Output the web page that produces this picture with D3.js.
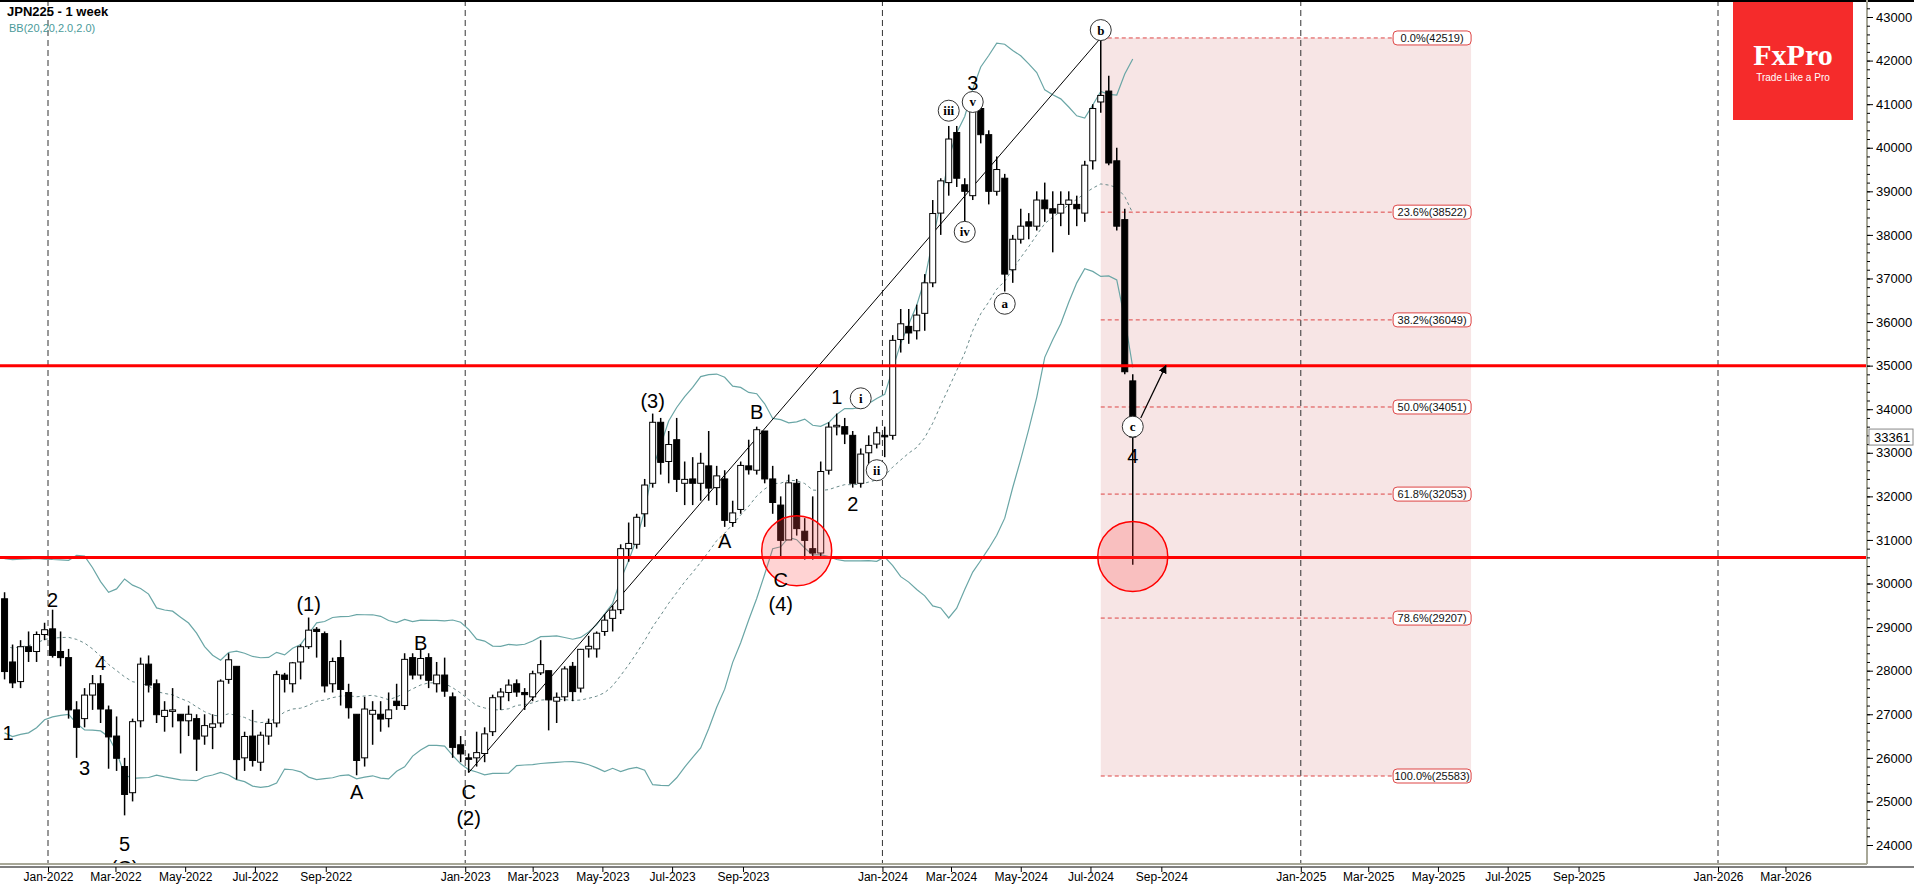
<!DOCTYPE html>
<html>
<head>
<meta charset="utf-8">
<script src="https://cdn.jsdelivr.net/npm/d3@7"></script>
<style>
  body { margin: 0; background: #fff; }
  svg { display: block; font-family: "Liberation Sans", Arial, sans-serif; }
</style>
</head>
<body>
<svg id="chart" width="1914" height="886"></svg>
<script>
// closes before the first drawn candle (only for the Bollinger warm-up)
const historyCloses = [28780, 27940, 28000, 27550, 27280, 27820, 27980, 27010, 27640,
  29130, 30380, 30500, 30250, 28770, 28050, 29070, 28800, 28890, 29610];

// weekly candles [open, high, low, close], first week starts 2021-11-22
const ohlc2021 = [
  [29650, 29800, 27800, 27980], [28200, 28600, 27600, 27720], [27750, 28700, 27600, 28550],
  [28550, 28900, 28200, 28440], [28440, 28900, 28200, 28830], [28830, 29100, 28700, 28940]
];
const ohlc2022 = [
  [28960, 29400, 28300, 28350], [28440, 28900, 28100, 28300], [28300, 28500, 26900, 27100],
  [27100, 27300, 26000, 26700], [26900, 27600, 26700, 27440], [27440, 27900, 27100, 27700],
  [27700, 27900, 26800, 27120], [27100, 27200, 25750, 26480], [26500, 26950, 25700, 25990],
  [25800, 26000, 24680, 25160], [25200, 26900, 25000, 26830], [26850, 28300, 26700, 28150],
  [28150, 28350, 27500, 27670], [27700, 27800, 26800, 26990], [26950, 27300, 26600, 27090],
  [27100, 27600, 26700, 27100], [27000, 27000, 26100, 26850], [26850, 27200, 26500, 27000],
  [26900, 27000, 25700, 26430], [26500, 27000, 26300, 26740], [26700, 27000, 26200, 26780],
  [26800, 27800, 26700, 27760], [27800, 28400, 27700, 28250], [28100, 28100, 25500, 25960],
  [26000, 26600, 25700, 26490], [26500, 27100, 25800, 25940], [25900, 26600, 25700, 26520],
  [26500, 26900, 26300, 26790], [26800, 28000, 26700, 27910], [27900, 27950, 27500, 27800],
  [27700, 28200, 27500, 28180], [28200, 28600, 27800, 28550], [28550, 29220, 28500, 28930],
  [28950, 29000, 28300, 28900], [28850, 28900, 27500, 27650], [27700, 28300, 27500, 28210],
  [28300, 28700, 27200, 27570], [27500, 27700, 26900, 27150], [27000, 27000, 25600, 25940],
  [26000, 27400, 25800, 27120], [27000, 27300, 26300, 27090], [27000, 27300, 26600, 26890],
  [26900, 27500, 26700, 27100], [27300, 27700, 27100, 27200], [27200, 28400, 27100, 28260],
  [28300, 28400, 27800, 27900], [27900, 28500, 27800, 28280], [28300, 28400, 27600, 27780],
  [27700, 28200, 27500, 27900], [27900, 28300, 27400, 27530], [27400, 27500, 26000, 26240],
  [26300, 26500, 25900, 26090]
];
const ohlc2023 = [
  [26000, 26100, 25660, 25970], [26000, 26600, 25800, 26120], [26100, 26700, 25900, 26550],
  [26600, 27450, 26500, 27380], [27400, 27600, 27100, 27510], [27500, 27800, 27300, 27670],
  [27700, 27800, 27400, 27510], [27500, 27600, 27100, 27450], [27400, 28000, 27300, 27930],
  [27950, 28700, 27900, 28140], [28000, 28000, 26630, 27330], [27300, 27500, 26800, 27390],
  [27400, 28100, 27300, 28040], [28100, 28200, 27300, 27520], [27600, 28500, 27500, 28490],
  [28500, 28800, 28300, 28560], [28500, 28900, 28300, 28860], [28900, 29300, 28800, 29160],
  [29200, 29500, 28900, 29390], [29400, 30900, 29300, 30800], [30800, 31400, 30500, 30920],
  [30900, 31600, 30800, 31520], [31600, 32400, 31300, 32260], [32300, 33900, 32200, 33700],
  [33700, 33800, 32500, 32780], [32800, 33500, 32300, 33190], [33300, 33800, 32100, 32390],
  [32300, 32800, 31800, 32390], [32400, 32900, 31800, 32300], [32300, 33000, 31900, 32760],
  [32700, 33500, 31900, 32190], [32200, 32700, 31800, 32470], [32400, 32600, 31300, 31450],
  [31400, 31900, 31300, 31620], [31700, 32800, 31600, 32710], [32700, 33300, 32500, 32610],
  [32600, 33600, 32500, 33530], [33500, 33500, 32300, 32400], [32400, 32700, 31600, 31860],
  [31800, 32000, 30600, 30990], [31000, 32500, 31000, 32310], [32300, 32400, 31100, 31260],
  [31200, 31500, 30550, 30990], [30800, 32000, 30550, 30700], [30700, 32800, 30600, 32570],
  [32600, 33700, 32500, 33590], [33600, 33900, 33400, 33630], [33600, 33800, 33200, 33430],
  [33400, 33500, 32200, 32300], [32300, 33100, 32200, 32970], [33000, 33400, 32500, 33170],
  [33200, 33600, 33100, 33460]
];
const ohlc2024 = [
  [33400, 33600, 32900, 33380], [33400, 35700, 33300, 35580], [35600, 36300, 35300, 35960],
  [35900, 36300, 35500, 35750], [35800, 36400, 35600, 36160], [36200, 37100, 35800, 36900],
  [36900, 38800, 36800, 38490], [38500, 39300, 38000, 39240], [39200, 40500, 38900, 40200],
  [40350, 40500, 39100, 39300], [39150, 39300, 38200, 39000], [38900, 41100, 38800, 41000],
  [40900, 41100, 40100, 40300], [40300, 40400, 38700, 39000], [39000, 39800, 38900, 39500],
  [39300, 39400, 36700, 37100], [37200, 38000, 36900, 37900], [37900, 38600, 37800, 38200],
  [38300, 38500, 37900, 38200], [38200, 39000, 38100, 38800], [38800, 39200, 38300, 38600],
  [38600, 39000, 37600, 38500], [38500, 39000, 38200, 38700], [38700, 39000, 38000, 38800],
  [38700, 38900, 38200, 38600], [38500, 39700, 38300, 39600], [39700, 41000, 39500, 40900],
  [41050, 42519, 40800, 41200], [41300, 41650, 39600, 39650], [39700, 40000, 38100, 38200],
  [38350, 38600, 34800, 34860], [34650, 34800, 30430, 33361]
];

const fibLevels = [0, 0.236, 0.382, 0.5, 0.618, 0.786, 1];
const fibLabels = ["0.0%(42519)", "23.6%(38522)", "38.2%(36049)", "50.0%(34051)",
  "61.8%(32053)", "78.6%(29207)", "100.0%(25583)"];
const levelLines = [35000, 30600];

const waveLabels = [
  ["2021-11-25", 26600, "1"], ["2022-01-03", 29650, "2"], ["2022-01-31", 25800, "3"],
  ["2022-02-14", 28200, "4"], ["2022-03-07", 24050, "5"], ["2022-03-07", 23500, "(C)"],
  ["2022-08-15", 29550, "(1)"], ["2022-09-26", 25250, "A"], ["2022-11-21", 28650, "B"],
  ["2023-01-02", 25250, "C"], ["2023-01-02", 24650, "(2)"], ["2023-06-12", 34200, "(3)"],
  ["2023-08-14", 31000, "A"], ["2023-09-11", 33950, "B"], ["2023-10-02", 30100, "C"],
  ["2023-10-02", 29550, "(4)"], ["2023-11-20", 34300, "1"], ["2023-12-04", 31850, "2"],
  ["2024-03-18", 41500, "3"], ["2024-08-05", 32950, "4"]
];
const circleLabels = [
  ["2023-12-11", 34250, "i"], ["2023-12-25", 32600, "ii"], ["2024-02-26", 40850, "iii"],
  ["2024-03-18", 41050, "v"], ["2024-03-11", 38070, "iv"], ["2024-04-15", 36420, "a"],
  ["2024-07-08", 42700, "b"], ["2024-08-05", 33600, "c"]
];

const xTicks = ["2022-01-01", "2022-03-01", "2022-05-01", "2022-07-01", "2022-09-01",
  "2023-01-01", "2023-03-01", "2023-05-01", "2023-07-01", "2023-09-01",
  "2024-01-01", "2024-03-01", "2024-05-01", "2024-07-01", "2024-09-01",
  "2025-01-01", "2025-03-01", "2025-05-01", "2025-07-01", "2025-09-01",
  "2026-01-01", "2026-03-01"];
const yearLines = ["2022-01-01", "2023-01-01", "2024-01-01", "2025-01-01", "2026-01-01"];

const parse = d3.timeParse("%Y-%m-%d");
const firstWeek = parse("2021-11-22");
const candles = [...ohlc2021, ...ohlc2022, ...ohlc2023, ...ohlc2024].map((d, i) => ({
  date: d3.timeWeek.offset(firstWeek, i), o: d[0], h: d[1], l: d[2], c: d[3]
}));

const W = 1914, H = 886, plotR = 1867, plotB = 864;
const x = d3.scaleTime().domain([parse("2022-01-01"), parse("2026-01-01")]).range([48, 1718]);
const xc = d => x(d3.timeDay.offset(d, 2));
const y = d3.scaleLinear().domain([24000, 43000]).range([845, 17]);

const svg = d3.select("#chart");
const plot = svg.append("g").attr("clip-path", "url(#clip)");
svg.append("clipPath").attr("id", "clip").append("rect")
  .attr("x", 0).attr("y", 1).attr("width", plotR).attr("height", plotB - 1);

// fib box
const fibX0 = xc(parse("2024-07-08")), fibX1 = x(parse("2025-05-30"));
const fibTop = 42519, fibBot = 25583;
plot.append("rect").attr("x", fibX0).attr("y", y(fibTop))
  .attr("width", fibX1 - fibX0).attr("height", y(fibBot) - y(fibTop)).attr("fill", "#f7e5e5");

// year gridlines
plot.selectAll(".yl").data(yearLines).enter().append("line")
  .attr("x1", d => x(parse(d))).attr("x2", d => x(parse(d)))
  .attr("y1", 0).attr("y2", plotB)
  .attr("stroke", "#333").attr("stroke-dasharray", "6,4").attr("stroke-width", 1);

// fib lines & labels
fibLevels.forEach((f, i) => {
  const v = fibTop - (fibTop - fibBot) * f;
  plot.append("line").attr("x1", fibX0).attr("x2", fibX1 - 78)
    .attr("y1", y(v)).attr("y2", y(v))
    .attr("stroke", "#d44").attr("stroke-dasharray", "4,3");
  const g = plot.append("g").attr("transform", `translate(${fibX1 - 78},${y(v)})`);
  g.append("rect").attr("x", 0).attr("y", -7).attr("width", 78).attr("height", 14)
    .attr("rx", 4).attr("fill", "#fff").attr("stroke", "#d44");
  g.append("text").attr("x", 39).attr("y", 4).attr("text-anchor", "middle")
    .attr("font-size", 11).attr("fill", "#111").text(fibLabels[i]);
});

// Bollinger bands BB(20, 2)
const allCloses = [...historyCloses, ...candles.map(d => d.c)];
const bands = candles.map((d, i) => {
  const win = allCloses.slice(i + historyCloses.length - 19, i + historyCloses.length + 1);
  const m = d3.mean(win), s = d3.deviation(win) * Math.sqrt((win.length - 1) / win.length);
  return { date: d.date, m, u: m + 2 * s, l: m - 2 * s };
});
const bandLine = k => d3.line().x(d => xc(d.date)).y(d => y(d[k]));
plot.append("path").attr("d", bandLine("u")(bands)).attr("fill", "none").attr("stroke", "#6aa6a6").attr("stroke-width", 1.2);
plot.append("path").attr("d", bandLine("l")(bands)).attr("fill", "none").attr("stroke", "#6aa6a6").attr("stroke-width", 1.2);
plot.append("path").attr("d", bandLine("m")(bands)).attr("fill", "none").attr("stroke", "#6a8a8a")
  .attr("stroke-width", 1).attr("stroke-dasharray", "3,3");

// trendline C(2) -> b
plot.append("line").attr("x1", xc(parse("2023-01-02"))).attr("y1", y(25660))
  .attr("x2", xc(parse("2024-07-08"))).attr("y2", y(42519)).attr("stroke", "#000").attr("stroke-width", 1);

// candles
const cw = 6;
const cg = plot.selectAll(".c").data(candles).enter().append("g");
cg.append("line").attr("x1", d => xc(d.date)).attr("x2", d => xc(d.date))
  .attr("y1", d => y(d.h)).attr("y2", d => y(d.l)).attr("stroke", "#000").attr("stroke-width", 1.5);
cg.append("rect").attr("x", d => xc(d.date) - cw / 2)
  .attr("y", d => y(Math.max(d.o, d.c)))
  .attr("width", cw).attr("height", d => Math.max(1.5, Math.abs(y(d.o) - y(d.c))))
  .attr("fill", d => d.c >= d.o ? "#fff" : "#000").attr("stroke", "#000").attr("stroke-width", 1);

// horizontal levels
plot.selectAll(".lv").data(levelLines).enter().append("line")
  .attr("x1", 0).attr("x2", plotR).attr("y1", d => y(d)).attr("y2", d => y(d))
  .attr("stroke", "#f00").attr("stroke-width", 3);

// red circles
[["2023-10-16", 30750], ["2024-08-05", 30620]].forEach(([d, v]) => {
  plot.append("circle").attr("cx", xc(parse(d))).attr("cy", y(v)).attr("r", 35)
    .attr("fill", "rgba(255,80,80,0.25)").attr("stroke", "#f00").attr("stroke-width", 1.5);
});

// arrow
svg.append("defs").append("marker").attr("id", "ah").attr("viewBox", "0 0 10 10")
  .attr("refX", 9).attr("refY", 5).attr("markerWidth", 7).attr("markerHeight", 7).attr("orient", "auto")
  .append("path").attr("d", "M0,0L10,5L0,10z").attr("fill", "#000");
plot.append("line").attr("x1", xc(parse("2024-08-05")) + 8).attr("y1", y(33800))
  .attr("x2", x(parse("2024-09-05"))).attr("y2", y(35000))
  .attr("stroke", "#000").attr("stroke-width", 1.2).attr("marker-end", "url(#ah)");

// wave labels
plot.selectAll(".wl").data(waveLabels).enter().append("text")
  .attr("x", d => xc(parse(d[0]))).attr("y", d => y(d[1]) + 8)
  .attr("text-anchor", "middle").attr("font-size", 20).attr("fill", "#000").text(d => d[2]);
const cl = plot.selectAll(".cl").data(circleLabels).enter().append("g")
  .attr("transform", d => `translate(${xc(parse(d[0]))},${y(d[1])})`);
cl.append("circle").attr("r", 10.5).attr("fill", "#fff").attr("stroke", "#333");
cl.append("text").attr("y", 4.5).attr("text-anchor", "middle").attr("font-size", 13)
  .attr("font-weight", "bold").attr("font-family", "Liberation Serif, serif").text(d => d[2]);

// frame
svg.append("line").attr("x1", 0).attr("x2", W).attr("y1", 1).attr("y2", 1).attr("stroke", "#000").attr("stroke-width", 2);
svg.append("line").attr("x1", 0).attr("x2", plotR).attr("y1", plotB).attr("y2", plotB).attr("stroke", "#a8a898").attr("stroke-width", 2);
svg.append("line").attr("x1", plotR).attr("x2", plotR).attr("y1", 0).attr("y2", plotB).attr("stroke", "#a8a898").attr("stroke-width", 2);
svg.append("line").attr("x1", 0).attr("x2", W).attr("y1", plotB + 3).attr("y2", plotB + 3).attr("stroke", "#000");

// y axis
const yAxis = d3.axisRight(y).tickValues(d3.range(24000, 43001, 1000)).tickSize(6).tickFormat(d3.format("d"));
svg.append("g").attr("transform", `translate(${plotR},0)`).call(yAxis)
  .call(g => g.select(".domain").remove())
  .call(g => g.selectAll("text").attr("font-size", 13).attr("fill", "#000")
    .attr("font-family", "Liberation Sans, Arial, sans-serif"));
svg.append("g").attr("transform", `translate(${plotR},0)`)
  .call(d3.axisRight(y).tickValues(d3.range(24000, 43201, 200)).tickSize(3).tickFormat(""))
  .call(g => g.select(".domain").remove());

// current price
const last = candles[candles.length - 1].c;
const pg = svg.append("g").attr("transform", `translate(${plotR + 2},${y(last)})`);
pg.append("rect").attr("x", 0).attr("y", -8).attr("width", 44).attr("height", 16)
  .attr("fill", "#fff").attr("stroke", "#888");
pg.append("text").attr("x", 5).attr("y", 5).attr("font-size", 13).text(last);

// x axis
const xAxis = d3.axisBottom(x).tickValues(xTicks.map(parse)).tickSize(5).tickFormat(d3.timeFormat("%b-%Y"));
svg.append("g").attr("transform", `translate(0,${plotB + 3})`).call(xAxis)
  .call(g => g.select(".domain").remove())
  .call(g => g.selectAll("text").attr("font-size", 12).attr("fill", "#000").attr("dy", "0.5em")
    .attr("font-family", "Liberation Sans, Arial, sans-serif"));

// title
svg.append("text").attr("x", 7).attr("y", 16).attr("font-size", 13).attr("font-weight", "bold").text("JPN225 - 1 week");
svg.append("text").attr("x", 9).attr("y", 32).attr("font-size", 11).attr("fill", "#4a9a9a").text("BB(20,20,2.0,2.0)");

// logo
svg.append("rect").attr("x", 1733).attr("y", 2).attr("width", 120).attr("height", 118).attr("fill", "#f52b2b");
svg.append("text").attr("x", 1793).attr("y", 65).attr("text-anchor", "middle").attr("fill", "#fff")
  .attr("font-size", 30).attr("font-family", "Liberation Serif, serif").attr("font-weight", "bold").text("FxPro");
svg.append("text").attr("x", 1793).attr("y", 81).attr("text-anchor", "middle").attr("fill", "#fff")
  .attr("font-size", 10).text("Trade Like a Pro");
</script>
</body>
</html>
